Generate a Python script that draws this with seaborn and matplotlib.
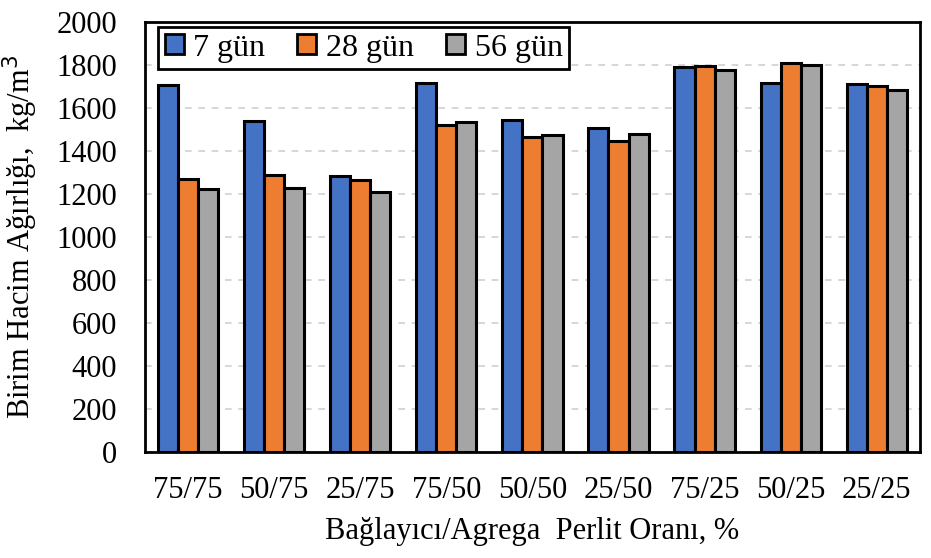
import matplotlib.pyplot as plt
import seaborn as sns
import pandas as pd

# values
oranlar = ['75/75', '50/75', '25/75', '75/50', '50/50', '25/50', '75/25', '50/25', '25/25']
gun_7 = [1705, 1538, 1284, 1718, 1545, 1505, 1790, 1718, 1712]
gun_28 = [1272, 1290, 1266, 1520, 1465, 1446, 1796, 1808, 1700]
gun_56 = [1223, 1230, 1207, 1535, 1475, 1480, 1778, 1802, 1683]
seriler = ['7 gün', '28 gün', '56 gün']
renkler = ['#4472C4', '#ED7D31', '#A5A5A5']

df = pd.DataFrame({
    'oran': oranlar * 3,
    'seri': [s for s in seriler for _ in oranlar],
    'deger': gun_7 + gun_28 + gun_56,
})

sns.set_style('white')
plt.rcParams['font.family'] = ['Liberation Serif', 'DejaVu Serif']
plt.rcParams['text.color'] = 'black'
plt.rcParams['axes.labelcolor'] = 'black'
plt.rcParams['xtick.color'] = 'black'
plt.rcParams['ytick.color'] = 'black'

fig = plt.figure(figsize=(9.31, 5.58), dpi=100)
ax = fig.add_axes([0.1557, 0.19, 0.8323, 0.7706])

sns.barplot(data=df, x='oran', y='deger', hue='seri', order=oranlar,
            hue_order=seriler, palette=renkler, width=0.7, gap=0,
            edgecolor='black', linewidth=2.2, saturation=1, ax=ax, zorder=3)

ax.set_ylim(0, 2000)
ax.set_yticks(range(0, 2001, 200))
ax.yaxis.grid(True, color='#cfcfcf', linestyle=(0, (4, 4)), linewidth=1.2, zorder=0)
ax.set_axisbelow(True)
ax.tick_params(axis='both', labelsize=22, length=0)
ax.tick_params(axis='x', pad=17)
ax.tick_params(axis='y', pad=20)
for sp in ax.spines.values():
    sp.set_color('black')
    sp.set_linewidth(2)

ax.set_xlabel('Bağlayıcı/Agrega  Perlit Oranı, %', fontsize=22, labelpad=9)
ax.set_ylabel('Birim Hacim Ağırlığı,  kg/m$^3$', fontsize=22, labelpad=12)

leg = ax.legend(loc='upper left', ncol=3, fontsize=23, frameon=True,
                fancybox=False, edgecolor='black', handlelength=0.6,
                handleheight=0.6, handletextpad=0.3, columnspacing=1.0,
                borderpad=0.2, borderaxespad=0, bbox_to_anchor=(0.017, 0.988))
leg.get_frame().set_linewidth(2)
leg.get_frame().set_alpha(1)
for h in leg.legend_handles:
    h.set_edgecolor('black')
    h.set_linewidth(2)

plt.savefig('out.png', dpi=100)
plt.close()
